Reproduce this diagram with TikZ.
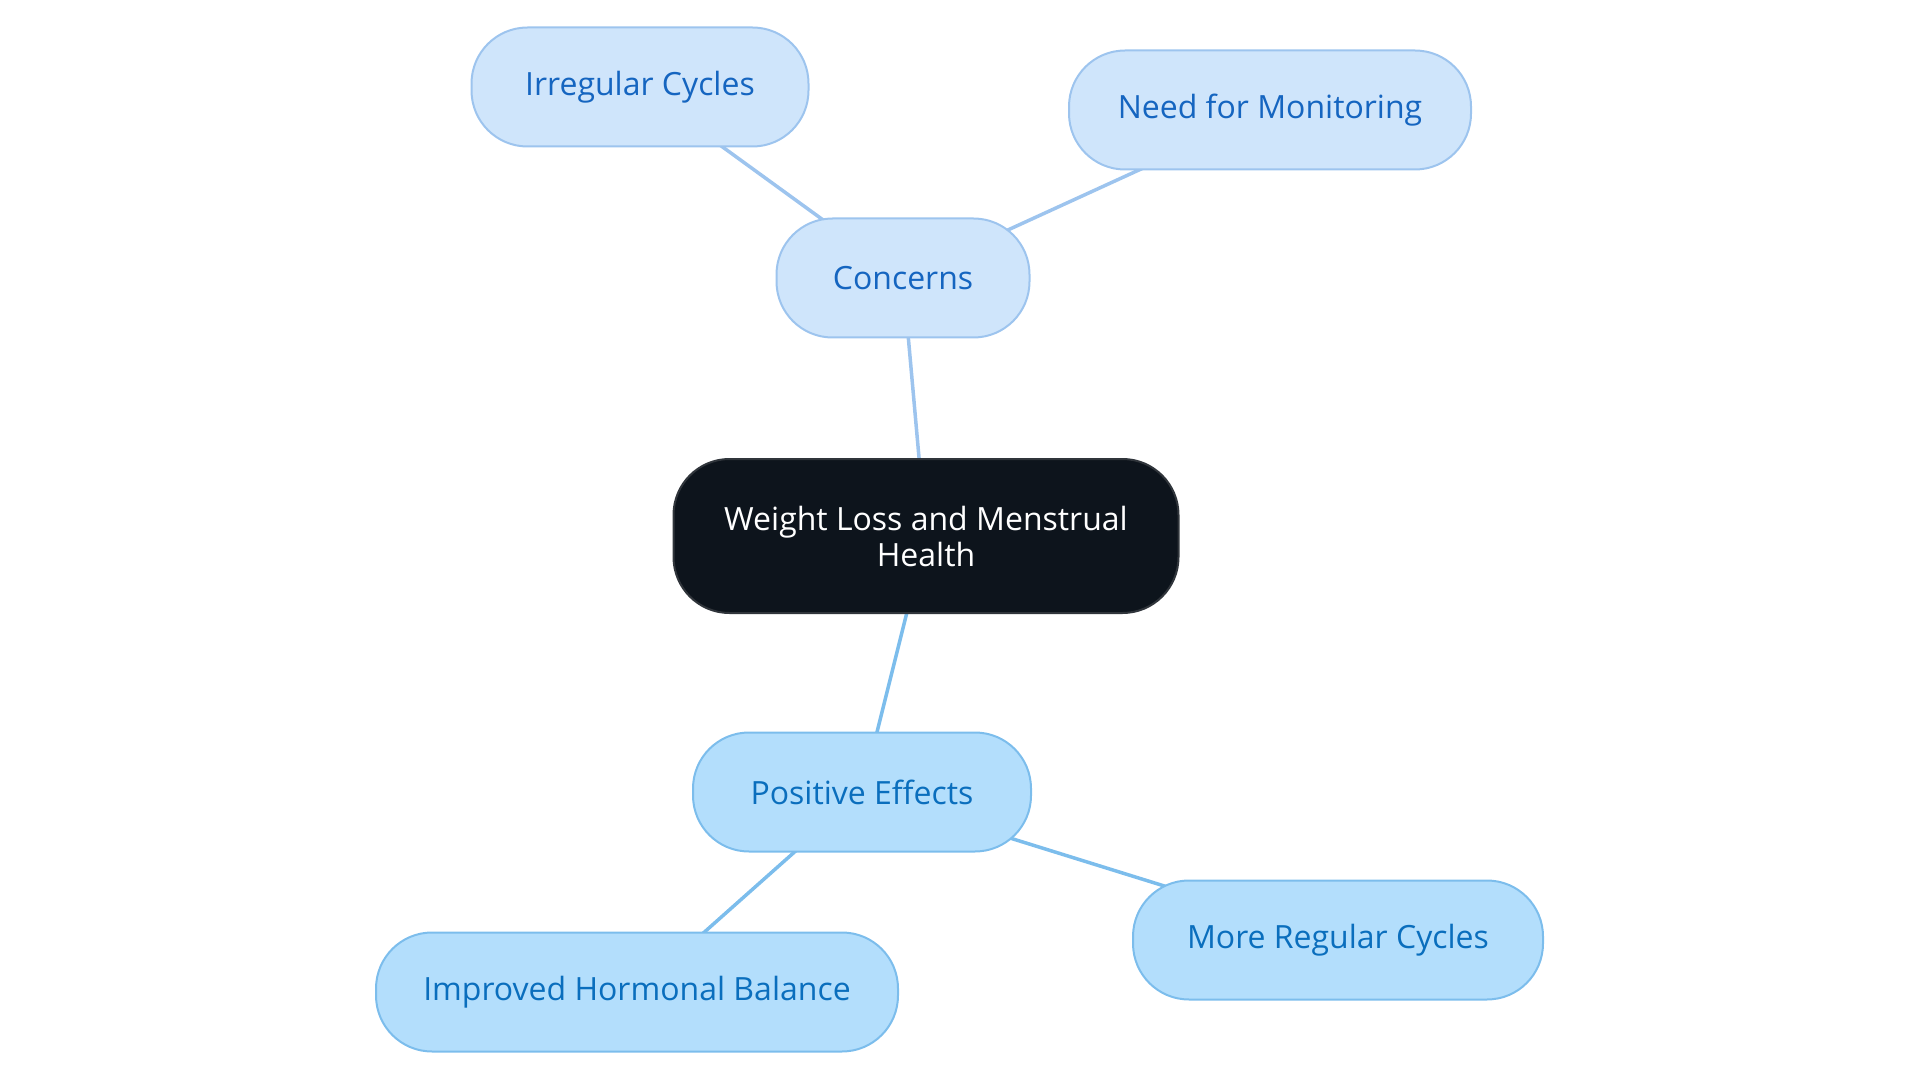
\documentclass[tikz,border=0pt]{standalone}
\usepackage{fontspec}
\setmainfont{Open Sans}
\usetikzlibrary{backgrounds}
\definecolor{cfill}{HTML}{CFE5FB}
\definecolor{cdraw}{HTML}{9DC4EE}
\definecolor{ctext}{HTML}{1565C0}
\definecolor{pfill}{HTML}{B3DEFC}
\definecolor{pdraw}{HTML}{7CBDEC}
\definecolor{ptext}{HTML}{0A6EBD}
\definecolor{mfill}{HTML}{0D141C}
\definecolor{mdraw}{HTML}{30353B}
\tikzset{
  x=1pt,y=-1pt,
  base/.style={rectangle, rounded corners=56pt, line width=2pt, inner sep=0pt, align=center,
    font=\fontsize{32}{36}\selectfont},
  cnode/.style={base, fill=cfill, draw=cdraw, text=ctext, minimum height=119pt},
  pnode/.style={base, fill=pfill, draw=pdraw, text=ptext, minimum height=119pt},
  mnode/.style={base, fill=mfill, draw=mdraw, text=white, minimum height=154pt, rounded corners=56pt},
  cline/.style={draw=cdraw, line width=3.5pt},
  pline/.style={draw=pdraw, line width=3.5pt},
}
\begin{document}
\begin{tikzpicture}
\useasboundingbox (0,0) rectangle (1920,1083);
\node[mnode, minimum width=505pt] (m) at (926,536) {Weight Loss and Menstrual\\Health};
\node[cnode, minimum width=253pt] (c) at (903,278) {Concerns};
\node[cnode, minimum width=337pt] (ci) at (640,87) {Irregular Cycles};
\node[cnode, minimum width=402pt] (cn) at (1270,110) {Need for Monitoring};
\node[pnode, minimum width=338pt] (p) at (862,792) {Positive Effects};
\node[pnode, minimum width=522pt] (ph) at (637,992) {Improved Hormonal Balance};
\node[pnode, minimum width=410pt] (pm) at (1338,940) {More Regular Cycles};
\begin{scope}[on background layer]
\draw[cline] (m.center) -- (c.center);
\draw[cline] (c.center) -- (ci.center);
\draw[cline] (c.center) -- (cn.center);
\draw[pline] (m.center) -- (p.center);
\draw[pline] (p.center) -- (ph.center);
\draw[pline] (p.center) -- (pm.center);
\end{scope}
\end{tikzpicture}
\end{document}
